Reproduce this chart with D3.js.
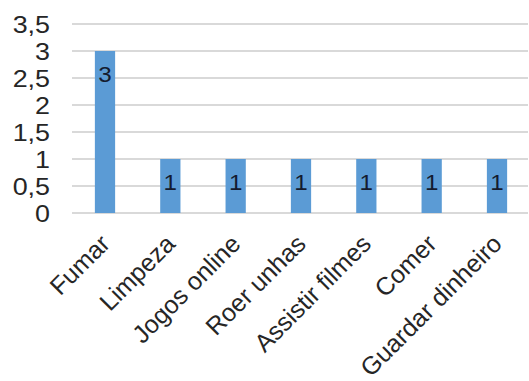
<!DOCTYPE html>
<html>
<head>
<meta charset="utf-8">
<script src="https://cdn.jsdelivr.net/npm/d3@7"></script>
<style>
  body { margin: 0; background: #fff; }
  text { font-family: "Liberation Sans", Arial, sans-serif; fill: #262626; }
</style>
</head>
<body>
<svg width="529" height="381"></svg>
<script>
const categories = ["Fumar", "Limpeza", "Jogos online", "Roer unhas", "Assistir filmes", "Comer", "Guardar dinheiro"];
const values = [3, 1, 1, 1, 1, 1, 1];
const yTicks = [0, 0.5, 1, 1.5, 2, 2.5, 3, 3.5];

const svg = d3.select("svg");

const x = d3.scaleBand().domain(categories).range([72, 530]).paddingInner(0.69).paddingOuter(0.35);
const y = d3.scaleLinear().domain([0, 3.5]).range([213, 24]);

const fmt = d => String(d).replace(".", ",");

// gridlines
svg.append("g")
  .selectAll("line")
  .data(yTicks)
  .enter().append("line")
  .attr("x1", 72)
  .attr("x2", 528)
  .attr("y1", d => y(d))
  .attr("y2", d => y(d))
  .attr("stroke", "#d9d9d9")
  .attr("stroke-width", 2);

// y labels
svg.append("g")
  .selectAll("text")
  .data(yTicks)
  .enter().append("text")
  .attr("transform", d => `translate(50,${y(d)}) scale(1.12,1)`)
  .attr("dy", "0.36em")
  .attr("text-anchor", "end")
  .style("font-size", "24px")
  .text(fmt);

// bars
svg.append("g")
  .selectAll("rect")
  .data(values)
  .enter().append("rect")
  .attr("x", (d, i) => x(categories[i]))
  .attr("y", d => y(d))
  .attr("width", x.bandwidth())
  .attr("height", d => y(0) - y(d))
  .attr("fill", "#5b9bd5");

// value labels
svg.append("g")
  .selectAll("text")
  .data(values)
  .enter().append("text")
  .attr("transform", (d, i) => `translate(${x(categories[i]) + x.bandwidth() / 2},${y(d) + 23}) scale(1.1,1)`)
  .attr("dy", "0.36em")
  .attr("text-anchor", "middle")
  .style("font-size", "22px")
  .style("fill", "#141c30")
  .text(d => d);

// category labels
svg.append("g")
  .selectAll("text")
  .data(categories)
  .enter().append("text")
  .attr("transform", d => `translate(${x(d) + x.bandwidth() / 2 - 6},${233}) rotate(-45)`)
  .attr("dy", "0.7em")
  .attr("text-anchor", "end")
  .style("font-size", "25px")
  .text(d => d);
</script>
</body>
</html>
